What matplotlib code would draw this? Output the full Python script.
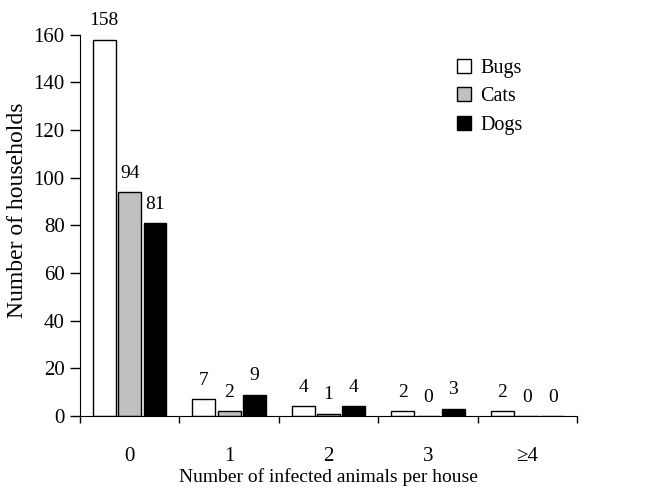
import numpy as np
import matplotlib.pyplot as plt
from matplotlib.ticker import MultipleLocator

plt.rcParams['font.family'] = ['Liberation Serif', 'DejaVu Serif']

# dados
categorias = ['0', '1', '2', '3', '≥4']
bugs = [158, 7, 4, 2, 2]
cats = [94, 2, 1, 0, 0]
dogs = [81, 9, 4, 3, 0]

series = [('Bugs', bugs, 'white'), ('Cats', cats, '#c0c0c0'), ('Dogs', dogs, 'black')]

fig = plt.figure(figsize=(6.5, 4.97), dpi=100)
ax = fig.add_axes([0.123, 0.163, 0.765, 0.767])

x = np.arange(len(categorias))
largura = 0.23
deslocamentos = [-0.255, 0.0, 0.255]

for (nome, valores, cor), d in zip(series, deslocamentos):
    barras = ax.bar(x + d, valores, largura, color=cor, edgecolor='black',
                    linewidth=1.0, label=nome)
    for b, v in zip(barras, valores):
        ax.annotate(str(v), (b.get_x() + b.get_width() / 2, b.get_height()),
                    xytext=(0, 7.5), textcoords='offset points',
                    ha='center', va='bottom', fontsize=14, clip_on=False)

ax.set_xlim(-0.5, len(categorias) - 0.5)
ax.set_ylim(0, 160)
ax.yaxis.set_major_locator(MultipleLocator(20))

# rótulos no centro, traços nas fronteiras
ax.set_xticks(x)
ax.set_xticklabels(categorias)
ax.set_xticks(np.arange(-0.5, len(categorias)), minor=True)
ax.tick_params(axis='x', which='major', length=0, pad=22, labelsize=15)
ax.tick_params(axis='x', which='minor', length=5, direction='out', width=1)
ax.tick_params(axis='y', length=7, direction='out', width=1, labelsize=15, pad=4)

ax.spines['top'].set_visible(False)
ax.spines['right'].set_visible(False)

ax.set_xlabel('Number of infected animals per house', fontsize=14, labelpad=2)
ax.set_ylabel('Number of households', fontsize=17, labelpad=4, y=0.54)

ax.legend(loc='upper left', bbox_to_anchor=(0.759, 0.937), frameon=False,
          fontsize=14.5, handlelength=0.7, handleheight=0.7, handletextpad=0.45,
          labelspacing=0.47, borderpad=0, borderaxespad=0)

fig.savefig('out.png', dpi=100)
